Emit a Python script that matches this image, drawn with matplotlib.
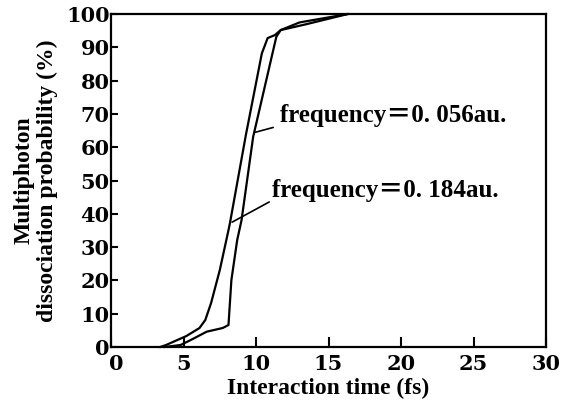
import matplotlib
matplotlib.use('Agg')
import matplotlib.pyplot as plt
from matplotlib.transforms import ScaledTranslation

plt.rcParams['font.family'] = ['Liberation Serif', 'Noto Sans CJK JP', 'DejaVu Serif']

# curve (time in fs, probability in %)
t_184 = [3.4, 3.8, 5.2, 6.1, 6.5, 6.9, 7.5, 8.1, 8.2, 9.3, 10.4, 10.8, 11.3, 11.7, 13.0, 16.3]
p_184 = [0, 0.6, 3.3, 5.7, 8.1, 13.2, 23.1, 35.1, 37.2, 63.7, 88.2, 92.8, 93.7, 95.2, 97.5, 100]

t_056 = [3.7, 4.8, 5.5, 6.6, 7.7, 8.1, 8.3, 8.7, 9.0, 9.8, 11.4, 11.7, 13.5, 16.3]
p_056 = [0, 0.6, 2.1, 4.6, 5.7, 6.6, 20.1, 32.1, 38.1, 63.1, 93.2, 95.2, 97.0, 100]

xticks = [0, 5, 10, 15, 20, 25, 30]
yticks = [0, 10, 20, 30, 40, 50, 60, 70, 80, 90, 100]

fig = plt.figure(figsize=(5.65, 4.03), dpi=100)
ax = fig.add_axes([0.1965, 0.139, 0.77, 0.826])

ax.plot(t_184, p_184, color='black', lw=1.6, clip_on=False)
ax.plot(t_056, p_056, color='black', lw=1.6, clip_on=False)

ax.annotate('frequency\uff1d0. 056au.', xy=(9.95, 64.5), xytext=(11.65, 69.4),
            fontsize=18, fontweight='bold', va='center',
            arrowprops=dict(arrowstyle='-', color='black', lw=1.2, relpos=(-0.03, 0),
                            shrinkA=0, shrinkB=0))
ax.annotate('frequency\uff1d0. 184au.', xy=(8.35, 37.5), xytext=(11.1, 47.1),
            fontsize=18, fontweight='bold', va='center',
            arrowprops=dict(arrowstyle='-', color='black', lw=1.2, relpos=(-0.01, 0),
                            shrinkA=0, shrinkB=0))

ax.set_xlim(0, 30)
ax.set_ylim(0, 100)
ax.set_xticks(xticks)
ax.set_yticks(yticks)
ax.tick_params(direction='in', width=1.5, labelsize=15)
ax.tick_params(axis='x', length=7, pad=5)
ax.tick_params(axis='y', length=5, pad=1)
for lab in ax.get_xticklabels() + ax.get_yticklabels():
    lab.set_family('DejaVu Serif')
    lab.set_fontweight('bold')
# the corner zero sits a little right of the axis in the original
x0 = ax.get_xticklabels()[0]
x0.set_transform(x0.get_transform() + ScaledTranslation(5 / 100, 0, fig.dpi_scale_trans))
for s in ax.spines.values():
    s.set_linewidth(1.6)

ax.set_xlabel('Interaction time (fs)', fontsize=17, fontweight='bold', labelpad=3)
ax.set_ylabel('Multiphoton\ndissociation probability (%)', fontsize=17,
              fontweight='bold', linespacing=1.1, labelpad=6)

fig.savefig('out.png', dpi=100)
